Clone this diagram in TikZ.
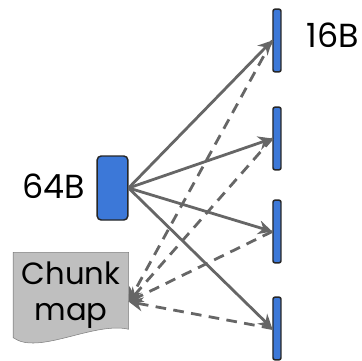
\documentclass[tikz,border=0pt]{standalone}
\usepackage{xcolor}
\usepackage{fontspec}
\setmainfont{Poppins}
\usepackage{tikz}
\usetikzlibrary{backgrounds,arrows.meta}

\definecolor{chunkblue}{HTML}{3C78D8}
\definecolor{arrowgray}{HTML}{666666}
\definecolor{mapfill}{HTML}{BFBFBF}
\definecolor{mapline}{HTML}{7F7F7F}

\begin{document}
\begin{tikzpicture}[x=0.75pt, y=-0.75pt, line width=1.1pt,
  bigchunk/.style={draw=black!85, fill=chunkblue, rounded corners=3pt, minimum width=23pt, minimum height=48pt, inner sep=0pt},
  smallchunk/.style={draw=black!85, fill=chunkblue, rounded corners=1.5pt, minimum width=6pt, minimum height=47pt, inner sep=0pt},
  sizetext/.style={inner sep=0pt, font=\fontsize{25}{27}\selectfont},
  fetch/.style={draw=arrowgray, line width=2.1pt, -{Stealth[length=10.5pt,width=10.5pt,inset=3.5pt]}},
  lookup/.style={fetch, dash pattern=on 8pt off 5.5pt}]
\useasboundingbox (0,0) rectangle (362,361);

\node[bigchunk] (big) at (112.5,188) {};
\node[sizetext, anchor=east] (bigsize) at (86,186.5) {64B};

\node[smallchunk] (s1) at (277,40.5) {};
\node[smallchunk] (s2) at (277,138.5) {};
\node[smallchunk] (s3) at (277,231.5) {};
\node[smallchunk] (s4) at (277,328.5) {};
\node[sizetext, anchor=west] (smallsize) at (306,35) {16B};

\node[sizetext, font=\fontsize{23}{27}\selectfont, align=center, minimum width=85.5pt, minimum height=63pt] (map) at (71,295) {Chunk\\map};
\begin{pgfonlayer}{background}
\draw[draw=mapline, fill=mapfill] (map.north west) -- (map.north east) -- ++(0,77)
  .. controls +(-35,-8) and +(25,18) .. (map.south west) -- cycle;
\end{pgfonlayer}

\draw[lookup] (s1.west) -- ([yshift=-5pt]map.east);
\draw[lookup] (s2.west) -- ([yshift=-5pt]map.east);
\draw[lookup] (s3.west) -- ([yshift=-5pt]map.east);
\draw[lookup] (s4.west) -- ([yshift=-5pt]map.east);

\draw[fetch] (big.east) -- (s1.west);
\draw[fetch] (big.east) -- (s2.west);
\draw[fetch] (big.east) -- (s3.west);
\draw[fetch] (big.east) -- (s4.west);
\end{tikzpicture}
\end{document}
